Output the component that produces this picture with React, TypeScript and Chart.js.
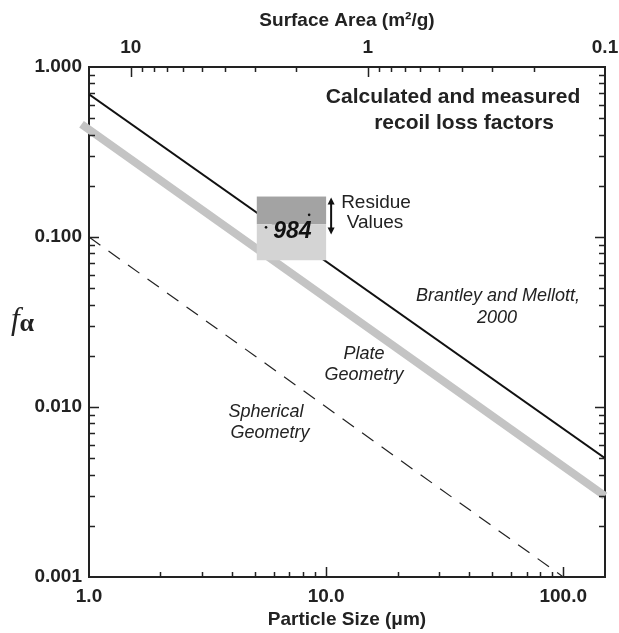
import React, { useEffect, useRef } from 'react';
import { Chart, registerables } from 'chart.js';

Chart.register(...registerables);

// ---- data ----
const brantleyX = [1, 150];
const brantleyY = [0.69, 0.005];
const plateX = [0.93, 150];
const plateY = [0.46, 0.003];
const sphericalX = [1, 100];
const sphericalY = [0.1, 0.001];
const residueBoxX = [5.1, 10]; // left, right (particle size)
const residueBoxY = [0.173, 0.119, 0.073]; // top, split, bottom (f alpha)
const residuePointX = [5.58, 8.48];
const residuePointY = [0.114, 0.135];
const residueLabel = '984';

const xRange = [1, 150];
const yRange = [0.001, 1];
const saRange = [0.1, 15];

const xTickValues = [1, 10, 100];
const xTickLabels = ['1.0', '10.0', '100.0'];
const yTickValues = [0.001, 0.01, 0.1, 1];
const yTickLabels = ['0.001', '0.010', '0.100', '1.000'];
const saTickValues = [10, 1, 0.1];
const saTickLabels = ['10', '1', '0.1'];

const INK = '#222222';
const SANS = '"Liberation Sans", Arial, Helvetica, sans-serif';
const SERIF = '"Liberation Serif", "Times New Roman", serif';

function labelFor(values: number[], labels: string[], v: number): string {
  for (let i = 0; i < values.length; i++) {
    if (Math.abs(Math.log10(values[i]) - Math.log10(v)) < 1e-6) return labels[i];
  }
  return '';
}

function logTicks(min: number, max: number): { v: number; major: boolean }[] {
  const out: { v: number; major: boolean }[] = [];
  const e0 = Math.floor(Math.log10(min)) - 1;
  const e1 = Math.ceil(Math.log10(max)) + 1;
  for (let e = e0; e <= e1; e++) {
    for (let m = 1; m <= 9; m++) {
      const v = m * Math.pow(10, e);
      if (v > min * 1.0001 && v < max * 0.9999) out.push({ v, major: m === 1 });
    }
  }
  return out;
}

const overlayPlugin = {
  id: 'overlay',
  afterDatasetsDraw(chart: any) {
    const ctx: CanvasRenderingContext2D = chart.ctx;
    const sx = chart.scales.x;
    const sy = chart.scales.y;
    ctx.save();

    // residue box
    const bx0 = sx.getPixelForValue(residueBoxX[0]);
    const bx1 = sx.getPixelForValue(residueBoxX[1]);
    const by0 = sy.getPixelForValue(residueBoxY[0]);
    const by1 = sy.getPixelForValue(residueBoxY[1]);
    const by2 = sy.getPixelForValue(residueBoxY[2]);
    ctx.fillStyle = '#a3a3a3';
    ctx.fillRect(bx0, by0, bx1 - bx0, by1 - by0);
    ctx.fillStyle = '#d4d4d4';
    ctx.fillRect(bx0, by1, bx1 - bx0, by2 - by1);

    // measured points
    ctx.fillStyle = '#111';
    for (let i = 0; i < residuePointX.length; i++) {
      const px = sx.getPixelForValue(residuePointX[i]);
      const py = sy.getPixelForValue(residuePointY[i]);
      ctx.beginPath();
      ctx.arc(px, py, 1.3, 0, Math.PI * 2);
      ctx.fill();
    }

    // 984 label
    ctx.fillStyle = '#111';
    ctx.font = `italic bold 23px ${SANS}`;
    ctx.textAlign = 'center';
    ctx.textBaseline = 'middle';
    ctx.fillText(residueLabel, (bx0 + bx1) / 2 + 1, by1 + 7);

    // double arrow
    const ax = bx1 + 5;
    const ay0 = by0 + 1;
    const ay1 = by0 + 38;
    ctx.strokeStyle = '#111';
    ctx.lineWidth = 2;
    ctx.beginPath();
    ctx.moveTo(ax, ay0 + 5);
    ctx.lineTo(ax, ay1 - 5);
    ctx.stroke();
    ctx.beginPath();
    ctx.moveTo(ax, ay0);
    ctx.lineTo(ax - 3.5, ay0 + 7);
    ctx.lineTo(ax + 3.5, ay0 + 7);
    ctx.closePath();
    ctx.fill();
    ctx.beginPath();
    ctx.moveTo(ax, ay1);
    ctx.lineTo(ax - 3.5, ay1 - 7);
    ctx.lineTo(ax + 3.5, ay1 - 7);
    ctx.closePath();
    ctx.fill();

    // annotations
    ctx.fillStyle = INK;
    ctx.textAlign = 'center';
    ctx.textBaseline = 'middle';
    ctx.font = `19px ${SANS}`;
    ctx.fillText('Residue', 376, 203);
    ctx.fillText('Values', 375, 223);

    ctx.font = `bold 21px ${SANS}`;
    ctx.fillText('Calculated and measured', 453, 97);
    ctx.fillText('recoil loss factors', 464, 123);

    ctx.font = `italic 18px ${SANS}`;
    ctx.fillText('Brantley and Mellott,', 498, 296);
    ctx.fillText('2000', 497, 318);
    ctx.fillText('Plate', 364, 354);
    ctx.fillText('Geometry', 364, 375);
    ctx.fillText('Spherical', 266, 412);
    ctx.fillText('Geometry', 270, 433);

    // y-axis symbol f-alpha
    ctx.textAlign = 'left';
    ctx.font = `italic 31px ${SERIF}`;
    const fx = 11;
    ctx.fillText('f', fx, 321);
    const fw = ctx.measureText('f').width;
    ctx.font = `bold 26px ${SERIF}`;
    ctx.fillText('\u03B1', fx + fw, 324);

    ctx.restore();
  },
  afterDraw(chart: any) {
    const ctx: CanvasRenderingContext2D = chart.ctx;
    const a = chart.chartArea;
    const { x, y, x2 } = chart.scales;
    ctx.save();
    ctx.strokeStyle = INK;
    ctx.lineWidth = 1.5;
    ctx.beginPath();
    for (const t of logTicks(xRange[0], xRange[1])) {
      const px = Math.round(x.getPixelForValue(t.v)) + 0.5;
      const len = t.major ? 10 : 5;
      ctx.moveTo(px, a.bottom);
      ctx.lineTo(px, a.bottom - len);
    }
    for (const t of logTicks(saRange[0], saRange[1])) {
      const px = Math.round(x2.getPixelForValue(t.v)) + 0.5;
      const len = t.major ? 10 : 5;
      ctx.moveTo(px, a.top);
      ctx.lineTo(px, a.top + len);
    }
    for (const t of logTicks(yRange[0], yRange[1])) {
      const py = Math.round(y.getPixelForValue(t.v)) + 0.5;
      const len = t.major ? 10 : 6;
      ctx.moveTo(a.left, py);
      ctx.lineTo(a.left + len, py);
      ctx.moveTo(a.right, py);
      ctx.lineTo(a.right - len, py);
    }
    ctx.stroke();
    ctx.restore();
  },
};

const tickFont = { family: SANS, size: 19, weight: 'bold' as const };
const titleFont = { family: SANS, size: 19, weight: 'bold' as const };
const border = { display: true, color: INK, width: 2 };
const grid = { display: true, drawOnChartArea: false, drawTicks: false };

export default function App() {
  const canvasRef = useRef<HTMLCanvasElement | null>(null);

  useEffect(() => {
    const canvas = canvasRef.current;
    if (!canvas) return;
    const toPts = (xs: number[], ys: number[]) => xs.map((v, i) => ({ x: v, y: ys[i] }));

    const chart = new Chart(canvas, {
      type: 'scatter',
      data: {
        datasets: [
          {
            label: 'Plate Geometry',
            data: toPts(plateX, plateY),
            showLine: true,
            borderColor: '#c4c4c4',
            borderWidth: 8,
            borderCapStyle: 'butt',
            pointRadius: 0,
            clip: false,
          },
          {
            label: 'Brantley and Mellott, 2000',
            data: toPts(brantleyX, brantleyY),
            showLine: true,
            borderColor: '#111',
            borderWidth: 2,
            pointRadius: 0,
          },
          {
            label: 'Spherical Geometry',
            data: toPts(sphericalX, sphericalY),
            showLine: true,
            borderColor: '#222',
            borderWidth: 1.2,
            borderDash: [14, 10],
            pointRadius: 0,
          },
        ],
      } as any,
      options: {
        responsive: false,
        maintainAspectRatio: false,
        animation: false,
        layout: { padding: 0 },
        plugins: {
          legend: { display: false },
          tooltip: { enabled: false },
          title: { display: false },
        },
        scales: {
          x: {
            type: 'logarithmic',
            position: 'bottom',
            min: xRange[0],
            max: xRange[1],
            afterBuildTicks: (s: any) => {
              s.ticks = xTickValues.map((v) => ({ value: v }));
            },
            afterFit: (s: any) => {
              s.height = 56;
              s.paddingLeft = 0;
              s.paddingRight = 0;
            },
            ticks: {
              autoSkip: false,
              maxRotation: 0,
              padding: 8,
              color: INK,
              font: tickFont,
              callback: (v: any) => labelFor(xTickValues, xTickLabels, Number(v)),
            },
            grid,
            border,
            title: {
              display: true,
              text: 'Particle Size (\u03BCm)',
              color: INK,
              font: titleFont,
              padding: { top: 0, bottom: 2 },
            },
          },
          x2: {
            type: 'logarithmic',
            position: 'top',
            reverse: true,
            min: saRange[0],
            max: saRange[1],
            afterBuildTicks: (s: any) => {
              s.ticks = saTickValues.map((v) => ({ value: v }));
            },
            afterFit: (s: any) => {
              s.height = 67;
              s.paddingLeft = 0;
              s.paddingRight = 0;
            },
            ticks: {
              autoSkip: false,
              maxRotation: 0,
              padding: 8,
              color: INK,
              font: tickFont,
              callback: (v: any) => labelFor(saTickValues, saTickLabels, Number(v)),
            },
            grid,
            border,
            title: {
              display: true,
              text: 'Surface Area (m\u00B2/g)',
              color: INK,
              font: titleFont,
              padding: { top: 9, bottom: 0 },
            },
          },
          y: {
            type: 'logarithmic',
            position: 'left',
            min: yRange[0],
            max: yRange[1],
            afterBuildTicks: (s: any) => {
              s.ticks = yTickValues.map((v) => ({ value: v }));
            },
            afterFit: (s: any) => {
              s.width = 89;
              s.paddingTop = 0;
              s.paddingBottom = 0;
            },
            ticks: {
              autoSkip: false,
              padding: 7,
              color: INK,
              font: tickFont,
              callback: (v: any) => labelFor(yTickValues, yTickLabels, Number(v)),
            },
            grid,
            border,
          },
          y2: {
            type: 'logarithmic',
            position: 'right',
            min: yRange[0],
            max: yRange[1],
            afterFit: (s: any) => {
              s.width = 14;
              s.paddingTop = 0;
              s.paddingBottom = 0;
            },
            ticks: { display: false },
            grid,
            border,
          },
        },
      } as any,
      plugins: [overlayPlugin],
    });

    return () => chart.destroy();
  }, []);

  return (
    <div style={{ position: 'fixed', left: 0, top: 0, width: 619, height: 633, background: '#fff' }}>
      <canvas ref={canvasRef} width={619} height={633} style={{ display: 'block' }} />
    </div>
  );
}
